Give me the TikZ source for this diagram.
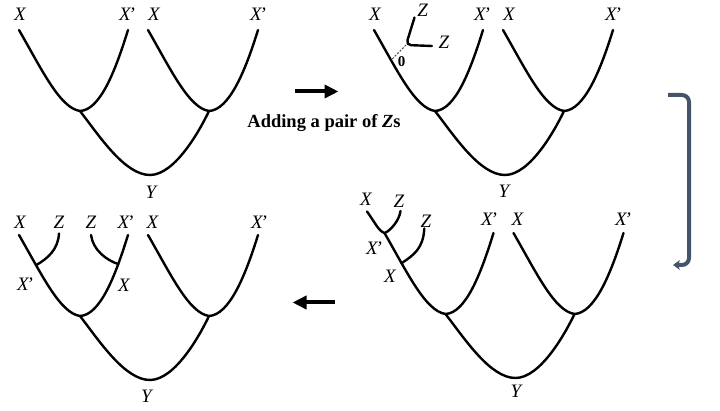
\documentclass[tikz,border=0pt]{standalone}
\usepackage{fontspec}
\setmainfont{Liberation Serif}
\usetikzlibrary{arrows.meta}
\newcommand{\xp}{X\kern-2.2pt’}
\begin{document}
\begin{tikzpicture}[x=1pt,y=-1pt,
  br/.style={line width=2.4pt, line cap=round},
  lab/.style={font=\fontsize{19}{19}\selectfont\itshape, inner sep=0pt},
  bigarrow/.style={line width=4pt, -{Triangle[length=14pt,width=13pt]}},
  tree/.pic={
    \coordinate (-l1) at (19,30);
    \coordinate (-r1) at (128,30);
    \coordinate (-j1) at (80,111);
    \coordinate (-l2) at (148,30);
    \coordinate (-r2) at (258,30);
    \coordinate (-j2) at (209,111);
    \coordinate (-y) at (150,175);
    \draw[br] (-l1) .. controls +(23,40) and +(-20,-3) .. (-j1) coordinate[pos=0.26] (-a)
       .. controls +(20,-1) and +(-13,42) .. (-r1) coordinate[pos=0.76] (-b);
    \draw[br] (-l2) .. controls +(23,40) and +(-20,-3) .. (-j2)
       .. controls +(20,-1) and +(-13,42) .. (-r2);
    \draw[br] (-j1) .. controls +(20,26) and +(-25,0) .. (-y)
       .. controls +(25,0) and +(-9,19) .. (-j2);
  }]
\useasboundingbox (0,0) rectangle (720,411);

% ---- tree 1 (top left)
\pic (t1) at (0,0) {tree};
\node[lab] (t1x1) at (20,14.5) {X};
\node[lab] (t1x2) at (127,14.5) {\xp};
\node[lab] (t1x3) at (154,14.5) {X};
\node[lab] (t1x4) at (258,14.5) {\xp};
\node[lab] (t1y) at (151,192.5) {Y};

% ---- arrow 1 + text
\coordinate (a1s) at (295,91.5);
\coordinate (a1e) at (338.5,91.5);
\draw[bigarrow] (a1s) -- (a1e);
\node[anchor=base, inner sep=0pt, font=\fontsize{18.5}{18.5}\selectfont\bfseries] (txt) at (324,127.3) {Adding a pair of \textit{Z}s};

% ---- tree 2 (top right)
\pic (t2) at (355,0) {tree};
\node[lab] (t2x1) at (375,14.5) {X};
\node[lab] (t2x2) at (482,14.5) {\xp};
\node[lab] (t2x3) at (509,14.5) {X};
\node[lab] (t2x4) at (613,14.5) {\xp};
\node[lab] (t2y) at (504,191) {Y};
\coordinate (zt) at (414.5,17.5);
\coordinate (zv) at (406,45);
\coordinate (zr) at (432,46);
\draw[br, rounded corners=5pt] (zt) -- (zv) -- (zr);
\draw[line width=1pt, dash pattern=on 2pt off 1.5pt, black!70] (zv) -- (t2-a);
\node[lab] (t2z1) at (422.7,10) {Z};
\node[lab] (t2z2) at (444,42) {Z};
\node[inner sep=0pt, font=\fontsize{15}{15}\selectfont\bfseries] (zero) at (401.5,62) {0};

% ---- bent arrow
\coordinate (b1) at (668,95);
\coordinate (b2) at (689,95);
\coordinate (b3) at (689,265);
\coordinate (b4) at (673,265);
\draw[line width=4pt, color={rgb,255:red,68;green,84;blue,106}, rounded corners=7pt,
  -{Stealth[length=7pt,width=10pt]}] (b1) -- (b2) -- (b3) -- (b4);

% ---- tree 3 (bottom right)
\pic (t3) at (365.5,203) {tree};
\coordinate (t3xt) at (367,211.5);
\coordinate (t3zt) at (400.5,211);
\coordinate (t3z2t) at (424.3,228.5);
\draw[br] (t3xt) .. controls +(8,11) and +(-6,-2) .. (t3-l1)
   .. controls +(6,-2) and +(-1,9) .. (t3zt);
\draw[br] (t3z2t) .. controls +(-1,20) and +(12,-8) .. (t3-a);
\node[lab] (t3x1) at (366,199) {X};
\node[lab] (t3z1) at (399,201) {Z};
\node[lab] (t3z2) at (426,221.5) {Z};
\node[lab] (t3x2) at (489,219) {\xp};
\node[lab] (t3x3) at (517.5,219) {X};
\node[lab] (t3x4) at (623,219) {\xp};
\node[lab] (t3y) at (516,391.5) {Y};
\node[lab] (t3xp) at (374,248.5) {\xp};
\node[lab] (t3xx) at (390,276.5) {X};

% ---- arrow 2
\coordinate (a2s) at (335,302.5);
\coordinate (a2e) at (292.5,302.5);
\draw[bigarrow] (a2s) -- (a2e);

% ---- tree 4 (bottom left)
\pic (t4) at (0,205) {tree};
\coordinate (t4z1t) at (59,233.5);
\coordinate (t4z2t) at (91,235);
\draw[br] (t4z1t) .. controls +(-1,16) and +(12,-7) .. (t4-a);
\draw[br] (t4z2t) .. controls +(2,15) and +(-12,-4) .. (t4-b);
\node[lab] (t4x1) at (20,222) {X};
\node[lab] (t4z1) at (59,222) {Z};
\node[lab] (t4z2) at (91,222) {Z};
\node[lab] (t4x2) at (125.5,222) {\xp};
\node[lab] (t4x3) at (152.5,222) {X};
\node[lab] (t4x4) at (259,222) {\xp};
\node[lab] (t4y) at (146.5,396.5) {Y};
\node[lab] (t4xp) at (25,284.5) {\xp};
\node[lab] (t4xx) at (124,285.5) {X};
\end{tikzpicture}
\end{document}
